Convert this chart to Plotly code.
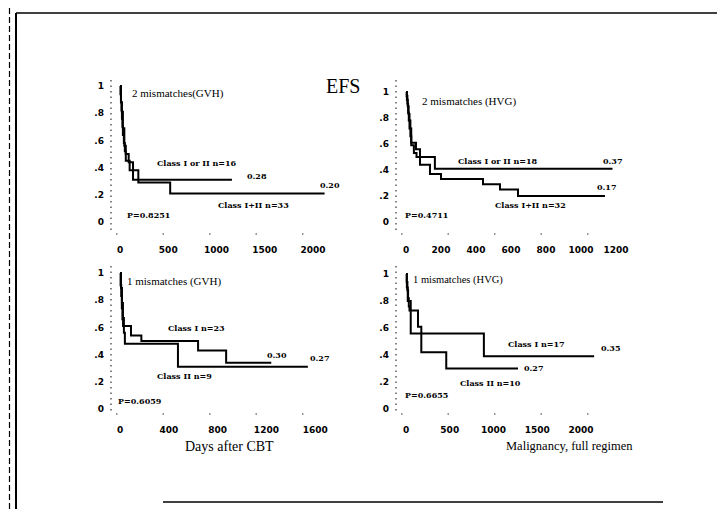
import plotly.graph_objects as go

W, H = 725, 509

# ---------------- data ----------------
# Top-left: 2 mismatches (GVH)
tl_a_days = [0, 10, 20, 30, 45, 60, 90, 135, 1160]
tl_a_surv = [1, .88, .81, .69, .56, .50, .44, .31, .31]
tl_b_days = [0, 5, 10, 15, 20, 25, 30, 40, 50, 60, 100, 190, 520, 2120]
tl_b_surv = [1, .94, .88, .82, .76, .70, .64, .58, .52, .45, .38, .29, .21, .21]

# Top-right: 2 mismatches (HVG)
tr_a_days = [0, 5, 10, 15, 20, 25, 30, 57, 80, 165, 1180]
tr_a_surv = [1, .94, .89, .83, .78, .72, .61, .56, .50, .41, .41]
tr_b_days = [0, 4, 8, 12, 16, 20, 25, 30, 45, 60, 80, 137, 200, 440, 537, 640, 1137]
tr_b_surv = [1, .97, .91, .84, .78, .72, .66, .59, .53, .50, .44, .37, .33, .29, .25, .20, .20]

# Bottom-left: 1 mismatch (GVH)
bl_a_days = [0, 8, 16, 24, 32, 40, 475, 1540]          # Class II n=9
bl_a_surv = [1, .89, .78, .67, .56, .48, .31, .31]
bl_b_days = [0, 5, 10, 15, 20, 25, 90, 175, 640, 870, 1240]   # Class I n=23
bl_b_surv = [1, .91, .83, .74, .66, .61, .54, .50, .43, .34, .34]

# Bottom-right: 1 mismatch (HVG)
br_a_days = [0, 8, 16, 24, 32, 40, 54, 890, 2150]      # Class I n=17
br_a_surv = [1, .94, .88, .82, .76, .73, .56, .39, .39]
br_b_days = [0, 10, 20, 54, 137, 175, 460, 1280]       # Class II n=10
br_b_surv = [1, .90, .80, .73, .61, .42, .30, .30]

y_tick_vals = [0, .2, .4, .6, .8, 1]
y_tick_text = ["0", ".2", ".4", ".6", ".8", "1"]
tl_x_ticks = [0, 500, 1000, 1500, 2000]
tr_x_ticks = [0, 200, 400, 600, 800, 1000, 1200]
bl_x_ticks = [0, 400, 800, 1200, 1600]
br_x_ticks = [0, 500, 1000, 1500, 2000]

# ---------------- layout geometry (pixels) ----------------
panels = {
    1: dict(x0=112, sx=0.0965, y0=214, sy=136, left=103, right=345, top=66, bottom=226, xt=tl_x_ticks),
    2: dict(x0=398, sx=0.175, y0=214, sy=130, left=388, right=640, top=66, bottom=226, xt=tr_x_ticks),
    3: dict(x0=112, sx=0.122, y0=401, sy=136, left=103, right=345, top=252, bottom=406, xt=bl_x_ticks),
    4: dict(x0=398, sx=0.0875, y0=401, sy=135, left=388, right=640, top=252, bottom=406, xt=br_x_ticks),
}

fig = go.Figure()

def add_curve(i, days, surv):
    sfx = "" if i == 1 else str(i)
    fig.add_trace(go.Scatter(x=days, y=surv, mode="lines", line=dict(color="black", width=2, shape="hv"),
                             xaxis="x" + sfx, yaxis="y" + sfx, showlegend=False, hoverinfo="skip"))

add_curve(1, tl_a_days, tl_a_surv)
add_curve(1, tl_b_days, tl_b_surv)
add_curve(2, tr_a_days, tr_a_surv)
add_curve(2, tr_b_days, tr_b_surv)
add_curve(3, bl_a_days, bl_a_surv)
add_curve(3, bl_b_days, bl_b_surv)
add_curve(4, br_a_days, br_a_surv)
add_curve(4, br_b_days, br_b_surv)

tick_font = dict(family="DejaVu Sans", size=9, color="black", weight="bold")
layout = dict(width=W, height=H, margin=dict(l=0, r=0, t=0, b=0),
              paper_bgcolor="white", plot_bgcolor="white", showlegend=False)
for i, p in panels.items():
    sfx = "" if i == 1 else str(i)
    xr = [(p["left"] - p["x0"]) / p["sx"], (p["right"] - p["x0"]) / p["sx"]]
    yr = [(p["y0"] - p["bottom"]) / p["sy"], (p["y0"] - p["top"]) / p["sy"]]
    layout["xaxis" + sfx] = dict(domain=[p["left"] / W, p["right"] / W], range=xr, anchor="y" + sfx,
                                 tickvals=p["xt"], ticktext=[str(v) for v in p["xt"]],
                                 showgrid=False, zeroline=False, showline=False, ticks="",
                                 ticklabelstandoff=9, tickfont=tick_font)
    layout["yaxis" + sfx] = dict(domain=[1 - p["bottom"] / H, 1 - p["top"] / H], range=yr, anchor="x" + sfx,
                                 tickvals=y_tick_vals, ticktext=y_tick_text,
                                 showgrid=False, zeroline=False, showline=False, ticks="",
                                 ticklabelstandoff=6, tickfont=tick_font)
fig.update_layout(**layout)

def pxl(x, y):
    return x / W, 1 - y / H

shapes = []
def line(x1, y1, x2, y2, w=1.5, dash="solid", color="black"):
    a = pxl(x1, y1); b = pxl(x2, y2)
    shapes.append(dict(type="line", xref="paper", yref="paper", x0=a[0], y0=a[1], x1=b[0], y1=b[1],
                       line=dict(color=color, width=w, dash=dash)))

# outer frame of the scanned page
line(8, 5, 718, 5, 1.6)
line(8, 5, 8, 509, 2)
line(1.5, 0, 1.5, 509, 1.2, "6px,3px")
line(718, 5, 718, 509, 1.6)
line(155, 494, 655, 494, 1.4)
# dotted axes
for i, p in panels.items():
    line(p["left"], p["top"] + 6, p["left"], p["bottom"], 1.2, "1.5px,4px", "#333")
    line(p["left"] + 5, p["bottom"], p["right"] - 30, p["bottom"], 1.2, "1.5px,45px", "#333")
fig.update_layout(shapes=shapes)

ann = []
def text(x, y, s, size=8, family="DejaVu Serif", anchor="left", weight="bold"):
    a = pxl(x, y)
    ann.append(dict(x=a[0], y=a[1], xref="paper", yref="paper", text=s, showarrow=False,
                    xanchor=anchor, yanchor="middle",
                    font=dict(family=family, size=size, color="black", weight=weight)))

SER = "Liberation Serif"
text(122, 86, "2 mismatches(GVH)", 11, SER, weight="normal")
text(335, 78, "EFS", 20, SER, anchor="center", weight="normal")
text(147, 155, "Class I or II n=16")
text(237, 168, "0.28")
text(310, 177, "0.20")
text(208, 197, "Class I+II n=33")
text(117, 207, "P=0.8251")

text(412, 93, "2 mismatches (HVG)", 11, SER, weight="normal")
text(448, 153, "Class I or II n=18")
text(593, 153, "0.37")
text(587, 179, "0.17")
text(485, 197, "Class I+II n=32")
text(395, 207, "P=0.4711")

text(117, 273, "1 mismatches (GVH)", 11, SER, weight="normal")
text(158, 320, "Class I n=23")
text(147, 368, "Class II n=9")
text(257, 347, "0.30")
text(300, 350, "0.27")
text(108, 393, "P=0.6059")
text(222, 438, "Days after CBT", 14, SER, anchor="center", weight="normal")

text(403, 272, "1 mismatches (HVG)", 10.5, SER, weight="normal")
text(498, 336, "Class I n=17")
text(450, 375, "Class II n=10")
text(591, 340, "0.35")
text(514, 360, "0.27")
text(395, 387, "P=0.6655")
text(561, 438, "Malignancy, full regimen", 12.5, SER, anchor="center", weight="normal")
fig.update_layout(annotations=ann)

fig.write_html("out.html")
